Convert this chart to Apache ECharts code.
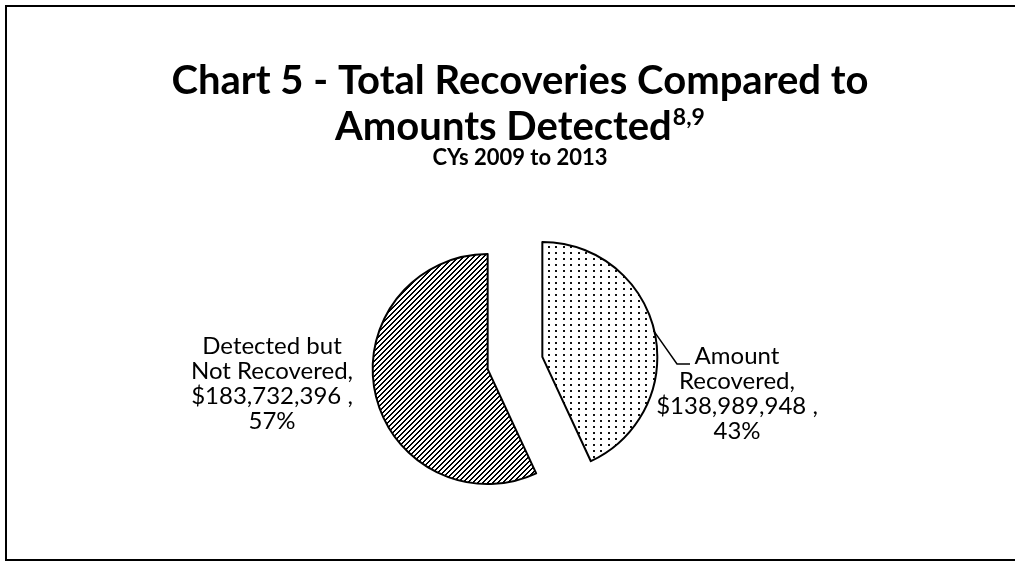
<!DOCTYPE html>
<html><head><meta charset="utf-8">
<script src="https://cdn.jsdelivr.net/npm/echarts@6/dist/echarts.min.js"></script>
<style>html,body{margin:0;padding:0;background:#fff}#c{width:1015px;height:563px}</style>
</head><body><div id="c"></div>
<script>
const categories = ['Amount\nRecovered', 'Detected but\nNot Recovered'];
const amounts = [138989948, 183732396];
const titleLines = ['Chart 5 - Total Recoveries Compared to', 'Amounts Detected'];
const titleSup = '8,9';
const subtitle = 'CYs 2009 to 2013';

function dotPattern() {
  const c = document.createElement('canvas'); c.width = 15; c.height = 12;
  const g = c.getContext('2d');
  g.fillStyle = '#fff'; g.fillRect(0, 0, 15, 12);
  g.fillStyle = '#111';
  [[0,0],[8,0],[0,6],[8,6]].forEach(p => g.fillRect(p[0], p[1], 2, 2));
  return c;
}
function hatchPattern() {
  const n = 5;
  const c = document.createElement('canvas'); c.width = n; c.height = n;
  const g = c.getContext('2d');
  g.fillStyle = '#fff'; g.fillRect(0, 0, n, n);
  g.fillStyle = '#000';
  for (let y = 0; y < n; y++) {
    g.fillRect((n - 1 - y + n) % n, y, 1, 1);
    g.fillRect((n - y + n) % n, y, 1, 1);
  }
  return c;
}
const fills = [dotPattern(), hatchPattern()];
const FONT = 'Lato';
const PIE_CENTER = [515, 363];
const EXPLODE = 28;
// label anchor (center x, top y) per slice
const labelAnchors = [[737, 344], [272, 334]];

const total = amounts.reduce((a, b) => a + b, 0);
const fmt = v => v.toLocaleString('en-US');

// each slice drawn as its own pie series, shifted outward along its mid-angle (exploded pie)
let cum = 0;
const series = amounts.map((v, i) => {
  const mid = (cum + v / 2) / total * 2 * Math.PI; cum += v;
  const center = [PIE_CENTER[0] + EXPLODE * Math.sin(mid), PIE_CENTER[1] - EXPLODE * Math.cos(mid)];
  return {
    type: 'pie',
    radius: 115,
    center: center,
    startAngle: 90,
    clockwise: true,
    avoidLabelOverlap: false,
    emphasis: { disabled: true },
    silent: true,
    label: {
      show: true, position: 'outside', color: '#000',
      fontFamily: FONT, fontSize: 24, lineHeight: 25, align: 'center',
      formatter: p => p.name + ',\n$' + fmt(p.value) + ' ,\n' + Math.round(p.percent) + '%'
    },
    labelLine: { show: true, length: 18, length2: 12, lineStyle: { color: '#000', width: 1.5 } },
    labelLayout: function (params) {
      if (params.dataIndex !== i) return {};
      const a = labelAnchors[i];
      const out = { x: a[0], y: a[1], align: 'center', verticalAlign: 'top' };
      if (i === 0 && params.labelLinePoints) {
        const s = params.labelLinePoints[0];
        out.labelLinePoints = [s, [a[0] - 60, a[1] + 20], [a[0] - 47, a[1] + 20]];
      }
      return out;
    },
    data: categories.map((n, j) => j === i ? {
      name: n, value: amounts[j],
      itemStyle: { color: { image: fills[j], repeat: 'repeat' }, borderColor: '#000', borderWidth: 2 },
      labelLine: { show: j === 0 }
    } : {
      name: n, value: amounts[j],
      itemStyle: { color: 'rgba(0,0,0,0)', borderWidth: 0 },
      label: { show: false }, labelLine: { show: false }
    })
  };
});

const chart = echarts.init(document.getElementById('c'));
chart.setOption({
  animation: false,
  backgroundColor: '#fff',
  title: {
    left: 515, textAlign: 'center', top: 53,
    text: '{a|' + titleLines[0] + '}\n{a|' + titleLines[1] + '}{s|' + titleSup + '}',
    subtext: subtitle,
    itemGap: 3,
    textStyle: {
      rich: {
        a: { fontFamily: FONT, fontWeight: 'bold', fontSize: 40, lineHeight: 46, color: '#000' },
        s: { fontFamily: FONT, fontWeight: 'bold', fontSize: 23, lineHeight: 46, color: '#000', verticalAlign: 'top', padding: [2, 0, 0, 1] }
      }
    },
    subtextStyle: { fontFamily: FONT, fontWeight: 'bold', fontSize: 22, lineHeight: 22, color: '#000' }
  },
  graphic: [{
    type: 'rect', shape: { x: 6, y: 6, width: 1020, height: 554 },
    style: { fill: 'none', stroke: '#000', lineWidth: 2 }, silent: true
  }],
  series: series
});
</script></body></html>
